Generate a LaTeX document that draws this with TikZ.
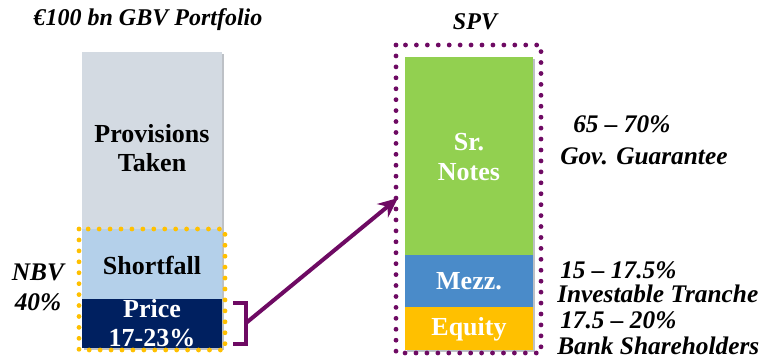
\documentclass[tikz,border=0pt]{standalone}
\usepackage{fontspec}
\setmainfont{Liberation Serif}
\usetikzlibrary{arrows.meta}
\definecolor{provgrey}{HTML}{D3DAE2}
\definecolor{shortblue}{HTML}{B4D0EA}
\definecolor{navy}{HTML}{002060}
\definecolor{srgreen}{HTML}{92D050}
\definecolor{mezzblue}{HTML}{4A8BC9}
\definecolor{eqyellow}{HTML}{FFC000}
\definecolor{spvpurple}{HTML}{6E0A63}
\definecolor{barshadow}{HTML}{BDC1C6}
\begin{document}
\begin{tikzpicture}[x=0.75pt,y=-0.75pt,
  seg/.style={inner sep=0pt, outer sep=0pt, anchor=north west, align=center,
    font=\fontsize{19.5}{22}\selectfont\bfseries},
  lbl/.style={inner sep=0pt, font=\fontsize{19}{22.5}\selectfont\bfseries\itshape},
  ttlfont/.style={font=\fontsize{18}{20}\selectfont\bfseries\itshape},
  dots/.style={line width=3.6pt, line cap=round, dash pattern=on 0pt off 8.2pt},
]
\useasboundingbox (0,0) rectangle (763,360);

% titles
\node[lbl, ttlfont] (ttl) at (148,20) {€100 bn GBV Portfolio};
\node[lbl, ttlfont] (spvttl) at (475,22) {SPV};

% bar shadows
\fill[barshadow] (84,54) rectangle (224,350);
\fill[barshadow] (407,59) rectangle (535,352);

% portfolio bar
\node[seg, fill=provgrey, minimum width=105pt, minimum height=132.75pt] (prov) at (82,52) {};
\node[seg, fill=shortblue, minimum width=105pt, minimum height=52.5pt] (short) at (82,229) {};
\node[seg, fill=navy, minimum width=105pt, minimum height=36.75pt] (price) at (82,299) {};
\node[seg, anchor=center] at (152,148) {Provisions\\Taken};
\node[seg, anchor=center] at (152,265) {Shortfall};
\node[seg, anchor=center, text=white] at (152,323) {Price\\17-23\%};

% NBV frame
\draw[eqyellow, dots] (79,229) rectangle (225,350);
\node[lbl, align=center] (nbv) at (38,287) {NBV\\40\%};

% SPV bar
\node[seg, fill=srgreen, minimum width=96pt, minimum height=148.5pt] (sr) at (405,57) {};
\node[seg, fill=mezzblue, minimum width=96pt, minimum height=39pt] (mezz) at (405,255) {};
\node[seg, fill=eqyellow, minimum width=96pt, minimum height=32.25pt] (eq) at (405,307) {};
\node[seg, anchor=center, text=white] at (469,157) {Sr.\\Notes};
\node[seg, anchor=center, text=white] at (469,281) {Mezz.};
\node[seg, anchor=center, text=white] at (469,329) {Equity};

% SPV frame
\draw[spvpurple, dots] (396,45) rectangle (541,353);

% bracket and arrow
\draw[spvpurple, line width=3pt] (233,303) -- (246,303) -- (246,344) -- (233,344);
\coordinate (brk) at (246,323);
\coordinate (spvin) at (398,198);
\draw[spvpurple, line width=3pt, -{Stealth[length=15pt,width=13pt]}] (brk) -- (spvin);

% tranche labels
\node[lbl, anchor=west] (l1) at (573,124) {65 – 70\%};
\node[lbl, anchor=west] (l2) at (560,156) {Gov. Guarantee};
\node[lbl, anchor=west] (l3) at (560,270) {15 – 17.5\%};
\node[lbl, anchor=west] (l4) at (557,294) {Investable Tranche};
\node[lbl, anchor=west] (l5) at (560,320) {17.5 – 20\%};
\node[lbl, anchor=west] (l6) at (557,346) {Bank Shareholders};
\end{tikzpicture}
\end{document}
